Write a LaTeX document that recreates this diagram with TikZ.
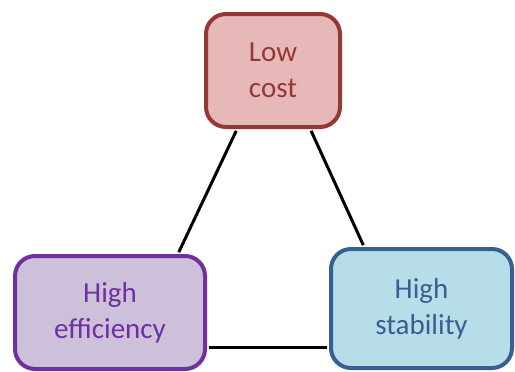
\documentclass[tikz,border=0pt]{standalone}
\usepackage{fontspec}
\setmainfont{Carlito}
\usetikzlibrary{calc}
\definecolor{costline}{HTML}{953735}
\definecolor{costfill}{HTML}{E6B9B8}
\definecolor{effline}{HTML}{7030A0}
\definecolor{efffill}{HTML}{CCC0DA}
\definecolor{stabline}{HTML}{376092}
\definecolor{stabfill}{HTML}{B7DEE8}
\begin{document}
\begin{tikzpicture}[x=1pt,y=-1pt,shorten >=2pt,shorten <=2pt]
\tikzstyle{box}=[rounded corners=20pt,line width=4pt,align=center,inner sep=0pt,font=\fontsize{29}{36}\selectfont]
\tikzstyle{link}=[line width=3pt,black]
\useasboundingbox (0,0) rectangle (515,372);
\node[box,draw=costline,fill=costfill,text=costline,minimum width=134pt,minimum height=113pt] (C) at (273,70.5) {Low\\cost};
\node[box,draw=effline,fill=efffill,text=effline,minimum width=190pt,minimum height=113pt] (E) at (110,312.5) {High\\efficiency};
\node[box,draw=stabline,fill=stabfill,text=stabline,minimum width=181pt,minimum height=119pt] (S) at (421.5,308.5) {High\\stability};

\coordinate (EC) at ($(E.north east)!.8!(E.south east)$);
\draw[link] ($(C.south west)!.24!(C.south east)$) -- ($(E.north west)!.85!(E.north east)$);
\draw[link] ($(C.south west)!.77!(C.south east)$) -- ($(S.north west)!.19!(S.north east)$);
\draw[link] (EC) -- (EC -| S.west);
\end{tikzpicture}
\end{document}
